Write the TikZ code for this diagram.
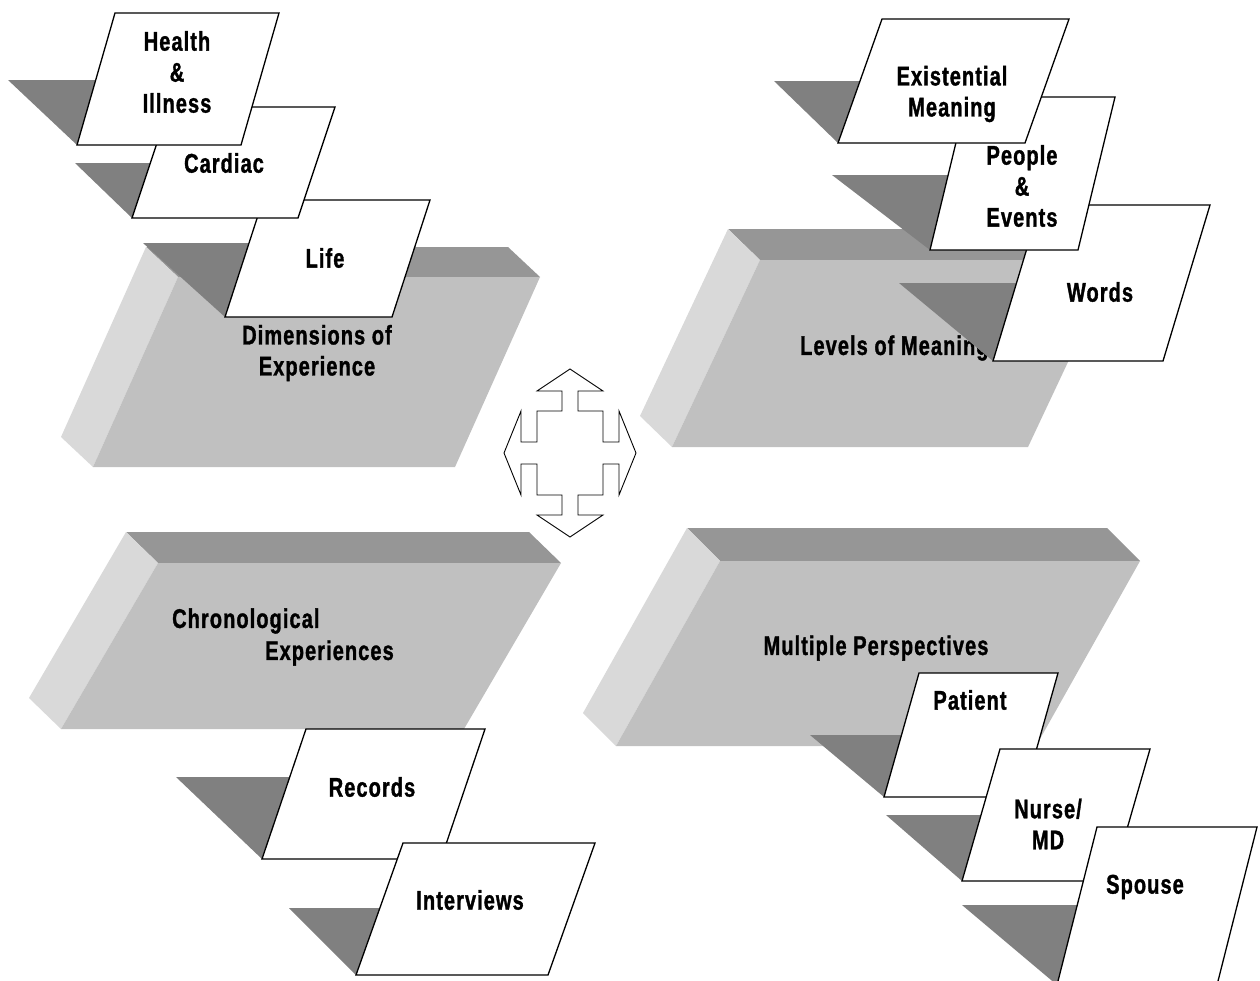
\documentclass[tikz,border=0pt]{standalone}
\usepackage{fontspec}
\newfontfamily\labfont[FakeStretch=0.74,LetterSpace=4,FakeBold=1.2]{Liberation Sans}
\definecolor{slabfront}{RGB}{192,192,192}
\definecolor{slabtop}{RGB}{150,150,150}
\definecolor{slabside}{RGB}{217,217,217}
\definecolor{shadowgray}{RGB}{128,128,128}
\tikzset{
  lbl/.style={font={\labfont\bfseries\fontsize{27}{31}\selectfont}, align=center, inner sep=0pt},
  cardline/.style={fill=white, draw=black, line width=1.3pt, line join=miter},
  shadowfill/.style={fill=shadowgray},
  arrowline/.style={fill=white, draw=black, line width=0.9pt, line join=miter},
}
% slab: #1 front TL x, #2 front TL y, #3 width, #4 height, #5 slant, #6 back dx, #7 back dy
\newcommand\myslab[7]{%
  \fill[slabtop] (#1+#6,#2+#7) -- (#1+#3+#6,#2+#7) -- (#1+#3,#2) -- (#1,#2) -- cycle;
  \fill[slabside] (#1+#6,#2+#7) -- (#1,#2) -- (#1-#5,#2+#4) -- (#1-#5+#6,#2+#4+#7) -- cycle;
  \fill[slabfront] (#1,#2) -- (#1+#3,#2) -- (#1+#3-#5,#2+#4) -- (#1-#5,#2+#4) -- cycle;
}
% card: #1 name, #2 BL x, #3 BL y, #4 width, #5 height, #6 slant, #7 shadow x, #8 shadow top y
\newcommand\mycard[8]{%
  \fill[shadowfill] (#7,#8) -- (#2+#6,#8) -- (#2,#3) -- cycle;
  \draw[cardline] (#2,#3) coordinate (#1-bl) -- ++(#4,0) -- ++(#6,-#5) -- ++(-#4,0) -- cycle;
}
\begin{document}
\begin{tikzpicture}[x=1pt,y=-1pt]
\clip (0,0) rectangle (1260,980);
\fill[white] (0,0) rectangle (1260,980);

% ---------- top-left group ----------
\myslab{178}{277}{362}{190}{85}{-32}{-30}
\node[lbl] (dim) at (317,353) {Dimensions of\\Experience};
\mycard{life}{225}{317}{167}{117}{38}{143}{243}
\node[lbl] (lifet) at (325,258) {Life};
\mycard{cardiac}{132}{218}{166}{111}{37}{75}{163}
\node[lbl] (cardt) at (224,163) {Cardiac};
\mycard{health}{77}{145}{164}{132}{38}{8}{80}
\node[lbl] (healtht) at (177,72) {Health\\\&\\Illness};

% ---------- top-right group ----------
\myslab{760}{260}{356}{187}{88}{-32}{-31}
\node[lbl, anchor=west] (levels) at (800,348) {Levels of Meaning};
\mycard{words}{993}{361}{170}{156}{47}{899}{283}
\node[lbl] (wordst) at (1100,292) {Words};
\mycard{people}{930}{250}{148}{153}{37}{832}{175}
\node[lbl] (peoplet) at (1022,186) {People\\\&\\Events};
\mycard{exist}{838}{143}{187}{124}{44}{774}{81}
\node[lbl] (existt) at (952,94) {Existential\\Meaning};

% ---------- bottom-left group ----------
\myslab{158}{563}{403}{166}{97}{-32}{-31}
\node[lbl, anchor=west] (chrono1) at (172,621) {Chronological};
\node[lbl, anchor=west] (chrono2) at (265,653) {Experiences};
\mycard{records}{262}{859}{179}{130}{44}{176}{777}
\node[lbl] (recordst) at (372,787) {Records};
\mycard{interv}{356}{975}{192}{132}{47}{289}{908}
\node[lbl] (intervt) at (470,900) {Interviews};

% ---------- bottom-right group ----------
\myslab{720}{561}{420}{185}{104}{-33}{-33}
\node[lbl] (multi) at (876,648) {Multiple Perspectives};
\mycard{patient}{884}{797}{139}{124}{35}{810}{735}
\node[lbl] (patientt) at (970,700) {Patient};
\mycard{nurse}{962}{881}{150}{132}{38}{886}{815}
\node[lbl] (nurset) at (1048,824) {Nurse/\\MD};
\mycard{spouse}{1057}{985}{160}{158}{40}{962}{905}
\node[lbl] (spouset) at (1145,887) {Spouse};

% ---------- central four-way arrow ----------
\draw[arrowline, shift={(570,453)}]
  (0,-84) -- (33,-62) -- (8,-62) -- (8,-42) -- (33,-42) -- (33,-11) -- (49,-11) -- (49,-42)
  -- (66,0) -- (49,42) -- (49,11) -- (33,11) -- (33,42) -- (8,42) -- (8,62) -- (33,62)
  -- (0,84) -- (-33,62) -- (-8,62) -- (-8,42) -- (-33,42) -- (-33,11) -- (-49,11) -- (-49,42)
  -- (-66,0) -- (-49,-42) -- (-49,-11) -- (-33,-11) -- (-33,-42) -- (-8,-42) -- (-8,-62) -- (-33,-62)
  -- cycle;
\end{tikzpicture}
\end{document}
